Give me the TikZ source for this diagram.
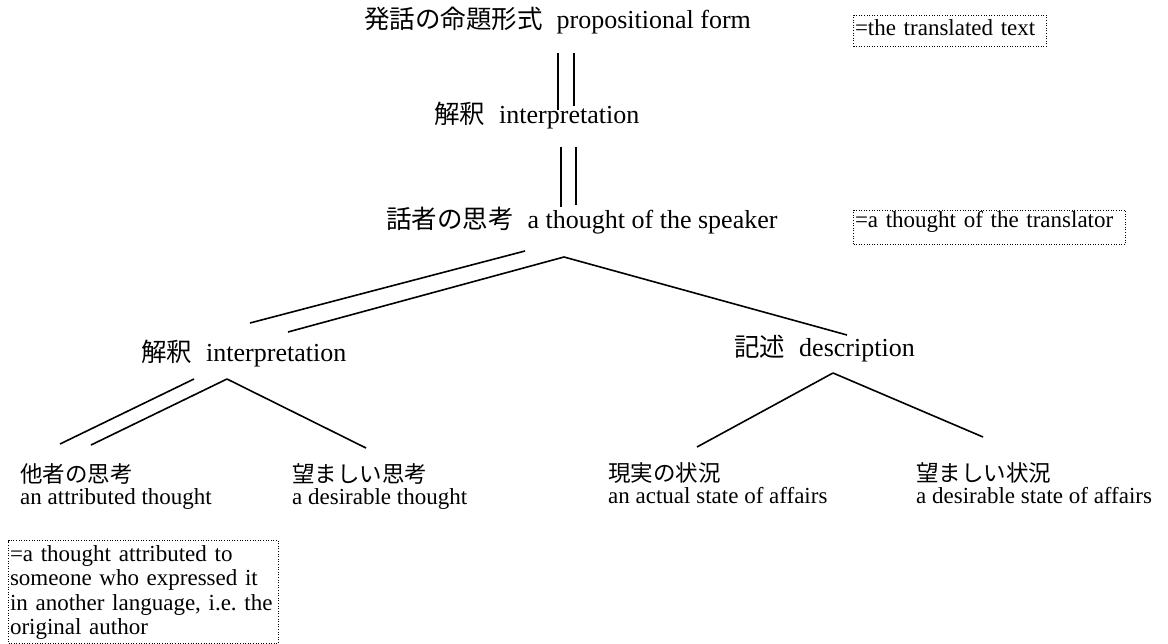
\documentclass[tikz,border=0pt]{standalone}
\usepackage{fontspec}
\setmainfont{Liberation Serif}
\newfontfamily\jpfont{Noto Sans CJK JP}
\newcommand\jpm[1]{{\jpfont\fontsize{25.5}{30}\selectfont #1}}
\newcommand\jps[1]{{\jpfont\fontsize{22.5}{21}\selectfont #1}}
\begin{document}
\begin{tikzpicture}[x=1pt,y=-1pt,
  conn/.style={line width=1.6pt},
  mainlbl/.style={inner sep=0pt, anchor=base west, font=\fontsize{26}{30}\selectfont},
  leaf/.style={inner sep=0pt, anchor=base west, align=left, font=\fontsize{23}{21.5}\selectfont},
  note/.style={draw, dash pattern=on 1pt off 1.6pt, line width=1pt, anchor=north west,
    inner ysep=0pt, inner xsep=1.5pt, align=left, font=\fontsize{23}{24.3}\selectfont}]
\useasboundingbox (0,0) rectangle (1168,644);

% main labels
\node[mainlbl] (prop) at (364,29) {\jpm{発話の命題形式}\hspace{14pt}propositional form};
\node[mainlbl] (interp1) at (434,124) {\jpm{解釈}\hspace{14pt}interpretation};
\node[mainlbl] (speaker) at (386,229) {\jpm{話者の思考}\hspace{14pt}a thought of the speaker};
\node[mainlbl] (interp2) at (141,362) {\jpm{解釈}\hspace{14pt}interpretation};
\node[mainlbl] (descr) at (734,357) {\jpm{記述}\hspace{14pt}description};

% leaves (anchor = baseline of the English line)
\node[leaf] (attr) at (20,504) {\jps{他者の思考}\\an attributed thought};
\node[leaf] (desth) at (292,504) {\jps{望ましい思考}\\a desirable thought};
\node[leaf] (actual) at (608,503) {\jps{現実の状況}\\an actual state of affairs};
\node[leaf] (desst) at (916,503) {\jps{望ましい状況}\\a desirable state of affairs};

% notes
\node[note, text width=190pt] (n1) at (853,15) {\rule[-11pt]{0pt}{31pt}=the translated text};
\node[note, text width=269pt] (n2) at (853,210) {\rule[-17pt]{0pt}{34pt}=a thought of the translator};
\node[note, text width=267pt] (n3) at (8,540) {\hyphenpenalty=10000\noindent\rule{0pt}{21pt}=a thought attributed to\linebreak someone who expressed it\linebreak in another language, i.e.\ the\linebreak original author\rule[-9pt]{0pt}{9pt}};

% connector end points
\coordinate (p1a) at (558,53);  \coordinate (i1a) at (558,110);
\coordinate (p1b) at (574,53);  \coordinate (i1b) at (574,106);
\coordinate (i1c) at (561,147); \coordinate (s1a) at (561,207);
\coordinate (i1d) at (576,147); \coordinate (s1b) at (576,205);
\coordinate (sA) at (525,251);  \coordinate (iA) at (250,323);
\coordinate (sB) at (564,257);  \coordinate (iB) at (288,332);
\coordinate (dA) at (847,335);
\coordinate (iC) at (194,379);  \coordinate (aA) at (60,444);
\coordinate (iD) at (227,379);  \coordinate (aB) at (91,445);
\coordinate (dtA) at (366,448);
\coordinate (dD) at (833,373);  \coordinate (acA) at (697,447);
\coordinate (dsA) at (983,437);

\draw[conn] (p1a) -- (i1a);
\draw[conn] (p1b) -- (i1b);
\draw[conn] (i1c) -- (s1a);
\draw[conn] (i1d) -- (s1b);
\draw[conn] (sA) -- (iA);
\draw[conn] (sB) -- (iB);
\draw[conn] (sB) -- (dA);
\draw[conn] (iC) -- (aA);
\draw[conn] (iD) -- (aB);
\draw[conn] (iD) -- (dtA);
\draw[conn] (dD) -- (acA);
\draw[conn] (dD) -- (dsA);
\end{tikzpicture}
\end{document}
